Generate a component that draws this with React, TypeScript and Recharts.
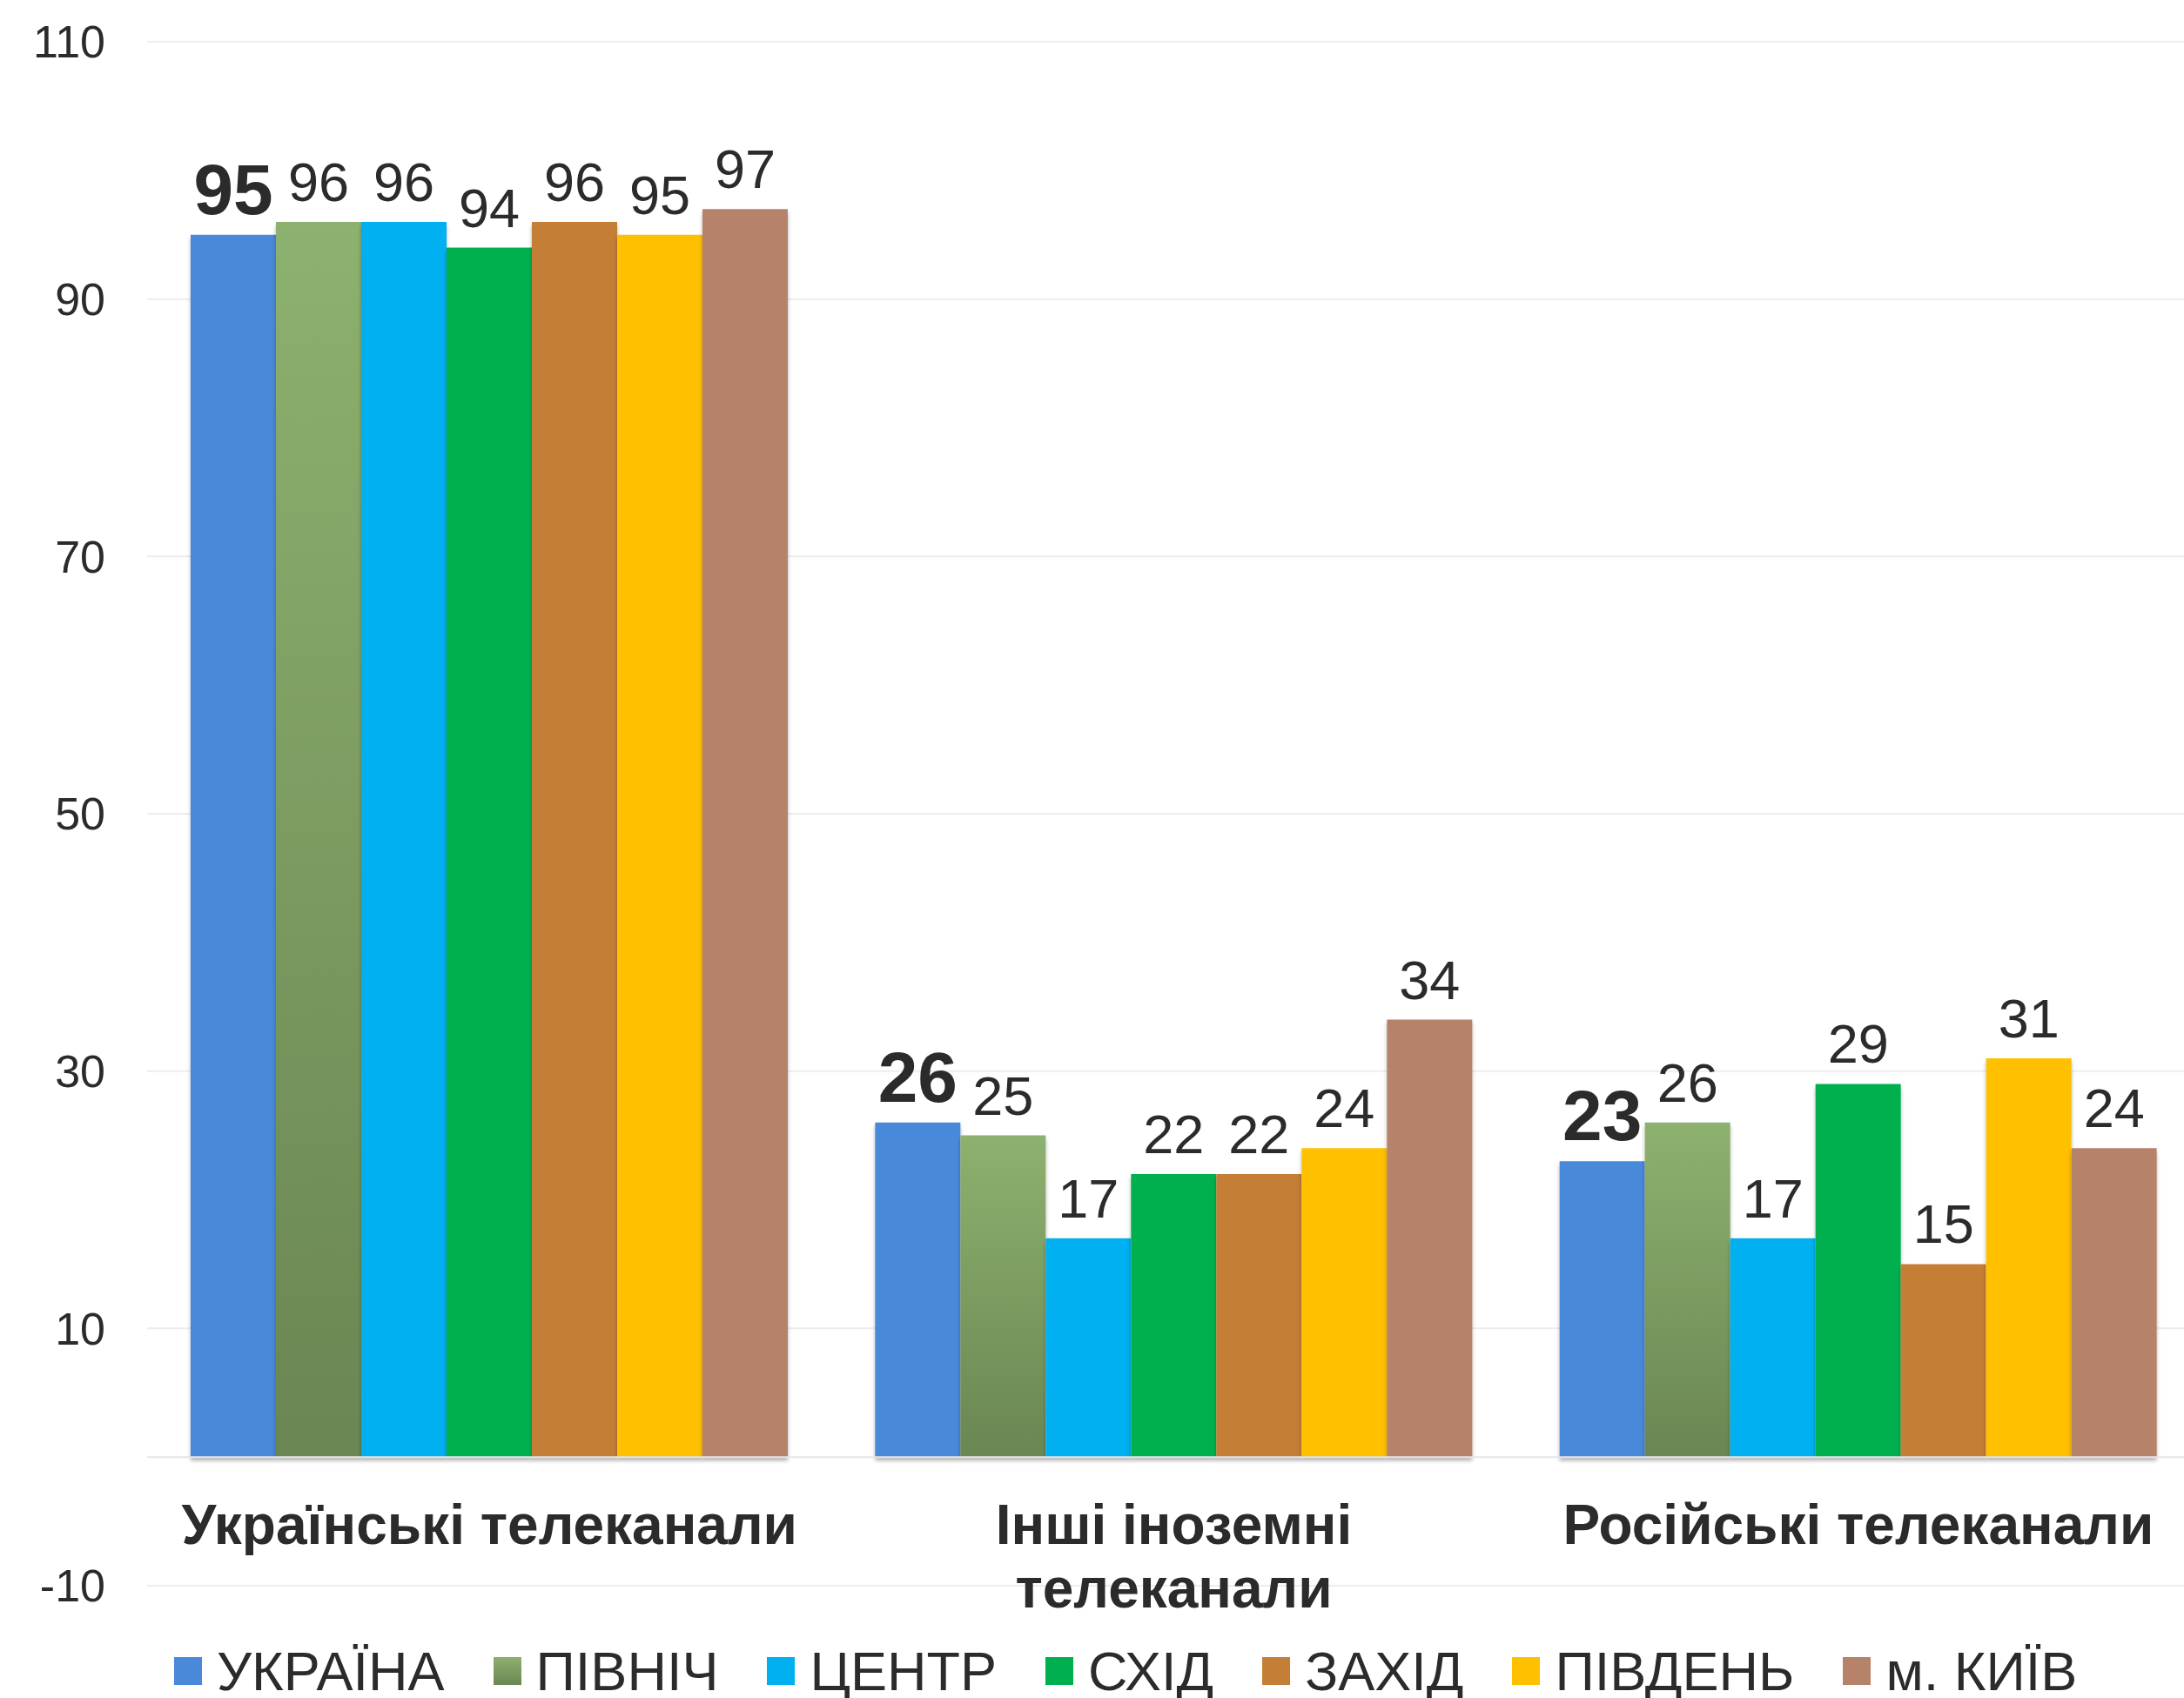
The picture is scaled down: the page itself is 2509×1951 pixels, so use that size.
import React from "react";
import {
  Bar,
  BarChart,
  CartesianGrid,
  LabelList,
  Legend,
  ReferenceLine,
  XAxis,
  YAxis,
} from "recharts";

const categories = [
  "Українські телеканали",
  "Інші іноземні\nтелеканали",
  "Російські телеканали",
];
const regions = ["УКРАЇНА", "ПІВНІЧ", "ЦЕНТР", "СХІД", "ЗАХІД", "ПІВДЕНЬ", "м. КИЇВ"];
const ukraine = [95, 26, 23];
const north = [96, 25, 26];
const centre = [96, 17, 17];
const east = [94, 22, 29];
const west = [96, 22, 15];
const south = [95, 24, 31];
const kyiv = [97, 34, 24];
const yTicks = [-10, 10, 30, 50, 70, 90, 110];

const seriesValues = [ukraine, north, centre, east, west, south, kyiv];
const barFills = ["#4A89DA", "url(#northFill)", "#00B0F0", "#00B050", "#C47E36", "#FFC000", "#B6836A"];
const legendFills = [
  "#4A89DA",
  "linear-gradient(#8DB16F, #6A8653)",
  "#00B0F0",
  "#00B050",
  "#C47E36",
  "#FFC000",
  "#B6836A",
];

const data = categories.map((name, i) => {
  const row: Record<string, any> = { name };
  regions.forEach((r, j) => {
    row["s" + j] = seriesValues[j][i];
  });
  return row;
});

const font = "'Liberation Sans', Arial, sans-serif";
const textColor = "#2b2b2b";

const CategoryTick = (props: any) => {
  const { x, y, payload } = props;
  const lines = String(payload.value).split("\n");
  return (
    <text
      x={x}
      y={y}
      textAnchor="middle"
      fontFamily={font}
      fontSize={64}
      fontWeight="bold"
      fill={textColor}
    >
      {lines.map((line, i) => (
        <tspan key={i} x={x} dy={i === 0 ? -48 : 73}>
          {line}
        </tspan>
      ))}
    </text>
  );
};

const renderLegend = () => (
  <div
    style={{
      display: "flex",
      alignItems: "center",
      height: 62,
      paddingLeft: 200,
      fontFamily: font,
      fontSize: 63,
      color: textColor,
      whiteSpace: "nowrap",
    }}
  >
    {regions.map((r, i) => (
      <div key={r} style={{ display: "flex", alignItems: "center", marginRight: 56 }}>
        <span
          style={{
            display: "inline-block",
            width: 32,
            height: 32,
            background: legendFills[i],
            marginRight: 17,
          }}
        />
        <span style={{ lineHeight: 1 }}>{r}</span>
      </div>
    ))}
  </div>
);

export default function App() {
  return (
    <div
      style={{
        position: "absolute",
        left: 0,
        top: 0,
        width: 2509,
        height: 1951,
        overflow: "hidden",
        background: "#fff",
      }}
    >
      <BarChart
        width={2540}
        height={1951}
        data={data}
        margin={{ top: 48, right: 12, bottom: 0, left: 0 }}
        barCategoryGap={50}
        barGap={0}
      >
        <defs>
          <linearGradient id="northFill" x1="0" y1="0" x2="0" y2="1">
            <stop offset="0%" stopColor="#8DB16F" />
            <stop offset="100%" stopColor="#6A8653" />
          </linearGradient>
          <filter id="barShadow" x="-5%" y="-5%" width="110%" height="110%">
            <feDropShadow dx="0" dy="4" stdDeviation="2" floodColor="#000" floodOpacity="0.3" />
          </filter>
        </defs>
        <CartesianGrid vertical={false} stroke="#EDEDED" strokeWidth={2} />
        <XAxis
          dataKey="name"
          axisLine={false}
          tickLine={false}
          tickSize={0}
          tickMargin={0}
          height={67}
          interval={0}
          tick={<CategoryTick />}
        />
        <YAxis
          domain={[-10, 110]}
          ticks={yTicks}
          width={169}
          axisLine={false}
          tickLine={false}
          tickSize={0}
          tickMargin={48}
          tick={{ fontSize: 52, fill: textColor, fontFamily: font }}
        />
        <ReferenceLine y={0} stroke="#E6E6E6" strokeWidth={2} />
        <Legend verticalAlign="bottom" content={renderLegend} />
        {regions.map((r, j) => (
          <Bar
            key={r}
            dataKey={"s" + j}
            name={r}
            fill={barFills[j]}
            filter="url(#barShadow)"
            isAnimationActive={false}
          >
            <LabelList
              dataKey={"s" + j}
              position="top"
              offset={24}
              fill={textColor}
              fontFamily={font}
              fontSize={j === 0 ? 82 : 63}
              fontWeight={j === 0 ? "bold" : "normal"}
            />
          </Bar>
        ))}
      </BarChart>
    </div>
  );
}
